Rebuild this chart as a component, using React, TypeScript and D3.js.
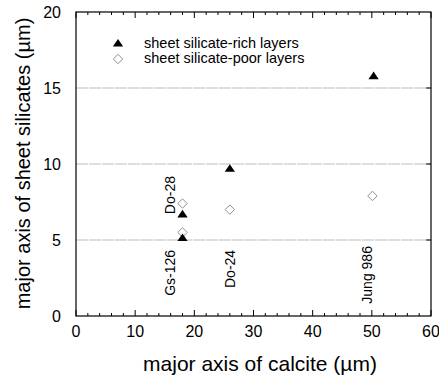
import { useEffect, useRef } from "react";
import * as d3 from "d3";

// calcite major axis (µm) vs sheet silicate major axis (µm)
const richX = [18, 18, 26, 50.3];
const richY = [5.1, 6.65, 9.65, 15.75];
const poorX = [18, 18, 26, 50.1];
const poorY = [5.5, 7.4, 7.0, 7.9];
const sampleNames = ["Do-28", "Gs-126", "Do-24", "Jung 986"];
const sampleX = [16.7, 16.7, 26.9, 50.0];
const sampleY = [6.7, 4.35, 4.35, 4.6];
const xTicks = [0, 10, 20, 30, 40, 50, 60];
const yTicks = [0, 5, 10, 15, 20];
const gridY = [5, 10, 15];

export default function App() {
  const svgRef = useRef<SVGSVGElement>(null);

  useEffect(() => {
    if (!svgRef.current) return;
    const svg = d3.select(svgRef.current);
    svg.selectAll("*").remove();

    const margin = { top: 12, right: 8, bottom: 64, left: 76 };
    const width = 439;
    const height = 380;
    const innerWidth = width - margin.left - margin.right;
    const innerHeight = height - margin.top - margin.bottom;
    const font = "Arial, 'Liberation Sans', Helvetica, sans-serif";

    const x = d3.scaleLinear().domain([0, 60]).range([0, innerWidth]);
    const y = d3.scaleLinear().domain([0, 20]).range([innerHeight, 0]);

    const g = svg
      .append("g")
      .attr("transform", `translate(${margin.left},${margin.top})`);

    // grid lines
    g.selectAll(".grid")
      .data(gridY)
      .enter()
      .append("line")
      .attr("x1", 0)
      .attr("x2", innerWidth)
      .attr("y1", (d) => y(d))
      .attr("y2", (d) => y(d))
      .attr("stroke", "#bdbdbd")
      .attr("stroke-width", 1.2)
      .attr("stroke-dasharray", "12 1");

    // right side ticks
    g.selectAll(".rtick")
      .data(gridY)
      .enter()
      .append("line")
      .attr("x1", innerWidth - 5)
      .attr("x2", innerWidth)
      .attr("y1", (d) => y(d))
      .attr("y2", (d) => y(d))
      .attr("stroke", "#000")
      .attr("stroke-width", 1);

    // frame
    g.append("rect")
      .attr("width", innerWidth)
      .attr("height", innerHeight)
      .attr("fill", "none")
      .attr("stroke", "#000")
      .attr("stroke-width", 1.2);

    // bottom + top ticks (inward)
    const minor = d3.range(0, 61, 2);
    [innerHeight, 0].forEach((base) => {
      const dir = base === 0 ? 1 : -1;
      g.selectAll(null)
        .data(minor)
        .enter()
        .append("line")
        .attr("x1", (d) => x(d))
        .attr("x2", (d) => x(d))
        .attr("y1", base)
        .attr("y2", (d) => base + dir * (d % 10 === 0 ? 6 : 3))
        .attr("stroke", "#000")
        .attr("stroke-width", 1);
    });

    // tick labels
    g.selectAll(".xl")
      .data(xTicks)
      .enter()
      .append("text")
      .attr("x", (d) => x(d))
      .attr("y", innerHeight + 21)
      .attr("text-anchor", "middle")
      .style("font-family", font)
      .style("font-size", "16px")
      .text((d) => d);

    g.selectAll(".yl")
      .data(yTicks)
      .enter()
      .append("text")
      .attr("x", -15)
      .attr("y", (d) => y(d) + 6)
      .attr("text-anchor", "end")
      .style("font-family", font)
      .style("font-size", "16px")
      .text((d) => d);

    // axis titles
    svg
      .append("text")
      .attr("x", 260)
      .attr("y", 371)
      .attr("text-anchor", "middle")
      .style("font-family", font)
      .style("font-size", "21px")
      .text("major axis of calcite (\u00b5m)");

    svg
      .append("text")
      .attr("transform", `translate(30,163.5) rotate(-90)`)
      .attr("text-anchor", "middle")
      .style("font-family", font)
      .style("font-size", "20px")
      .text("major axis of sheet silicates (\u00b5m)");

    const tri = d3.symbol().type(d3.symbolTriangle).size(46);
    const dia = d3.symbol().type(d3.symbolSquare).size(44);
    const triT = (cx: number, cy: number) => `translate(${cx},${cy}) scale(1,0.85)`;
    const diaT = (cx: number, cy: number) => `translate(${cx},${cy}) rotate(45)`;

    // sample labels
    const anchors = ["start", "end", "end", "end"];
    g.selectAll(".lab")
      .data(sampleNames)
      .enter()
      .append("text")
      .attr(
        "transform",
        (d, i) => `translate(${x(sampleX[i])},${y(sampleY[i])}) rotate(-90)`
      )
      .attr("text-anchor", (d, i) => anchors[i])
      .style("font-family", font)
      .style("font-size", "14px")
      .text((d) => d);

    // poor markers
    g.selectAll(".poor")
      .data(poorX)
      .enter()
      .append("path")
      .attr("d", dia)
      .attr("transform", (d, i) => diaT(x(d), y(poorY[i])))
      .attr("fill", "#fff")
      .attr("stroke", "#8a8a8a")
      .attr("stroke-width", 0.9);

    // rich markers
    g.selectAll(".rich")
      .data(richX)
      .enter()
      .append("path")
      .attr("d", tri)
      .attr("transform", (d, i) => triT(x(d), y(richY[i])))
      .attr("fill", "#000");

    // legend
    const lg = svg.append("g");
    lg.append("path").attr("d", tri).attr("transform", triT(118, 44)).attr("fill", "#000");
    lg.append("path")
      .attr("d", dia)
      .attr("transform", diaT(118, 59))
      .attr("fill", "#fff")
      .attr("stroke", "#8a8a8a")
      .attr("stroke-width", 0.9);
    lg.append("text")
      .attr("x", 144)
      .attr("y", 48)
      .style("font-family", font)
      .style("font-size", "14.5px")
      .text("sheet silicate-rich layers");
    lg.append("text")
      .attr("x", 144)
      .attr("y", 63)
      .style("font-family", font)
      .style("font-size", "14.5px")
      .text("sheet silicate-poor layers");
  }, []);

  return (
    <svg
      ref={svgRef}
      width={439}
      height={380}
      style={{ position: "absolute", left: 0, top: 0, background: "#fff" }}
    ></svg>
  );
}
